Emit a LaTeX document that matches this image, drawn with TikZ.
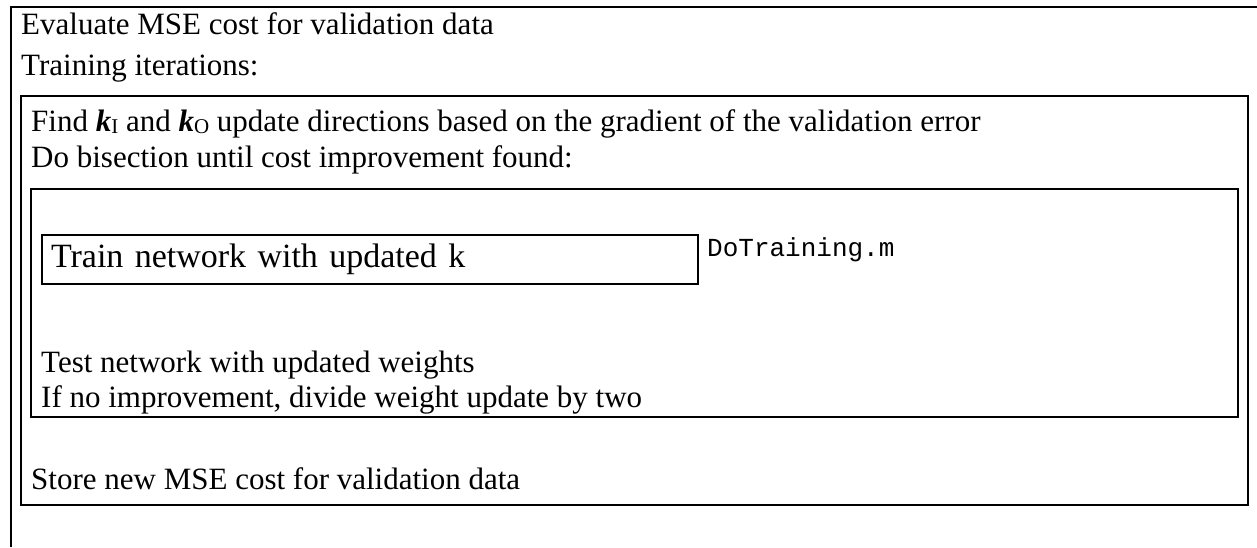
\documentclass[tikz,border=0pt]{standalone}
\usepackage{fontspec}
\setmainfont{Liberation Serif}
\setmonofont{Liberation Mono}
\newcommand{\kvec}[1]{\textbf{\textit{k}}\raisebox{-0.2ex}{\fontsize{21}{21}\selectfont #1}}
\begin{document}
\begin{tikzpicture}[x=1pt,y=-1pt,
  frame/.style={line width=2pt},
  txt/.style={anchor=base west, inner sep=0pt, font=\fontsize{31}{36}\selectfont},
  code/.style={anchor=base west, inner sep=0pt, font=\ttfamily\fontsize{26}{30}\selectfont},
  trainbox/.style={draw, line width=2pt, anchor=north west, inner ysep=0pt, inner xsep=9pt,
    minimum width=656pt, minimum height=49pt, text width=638pt, align=left,
    font=\fontsize{34}{38}\selectfont}]
\useasboundingbox (0,0) rectangle (1257,547);

% outer frame, open on the right and at the bottom
\draw[frame] (1257,7) -- (11,7) -- (11,547);
% training iterations block
\draw[frame] (21,96) rectangle (1248,505);
% bisection block
\draw[frame] (31,189) rectangle (1238,417);

\node[txt] (eval) at (21,34) {Evaluate MSE cost for validation data};
\node[txt] (iter) at (21,75) {Training iterations:};
\node[txt] (find) at (31,131) {Find \kvec{I} and \kvec{O} update directions based on the gradient of the validation error};
\node[txt] (bisect) at (31,167) {Do bisection until cost improvement found:};

\node[trainbox] (train) at (41,234) {Train network with updated k};
\node[code] (dotrain) at (707,256) {DoTraining.m};

\node[txt] (test) at (41,372) {Test network with updated weights};
\node[txt] (halve) at (41,407) {If no improvement, divide weight update by two};
\node[txt] (store) at (31,489) {Store new MSE cost for validation data};
\end{tikzpicture}
\end{document}
